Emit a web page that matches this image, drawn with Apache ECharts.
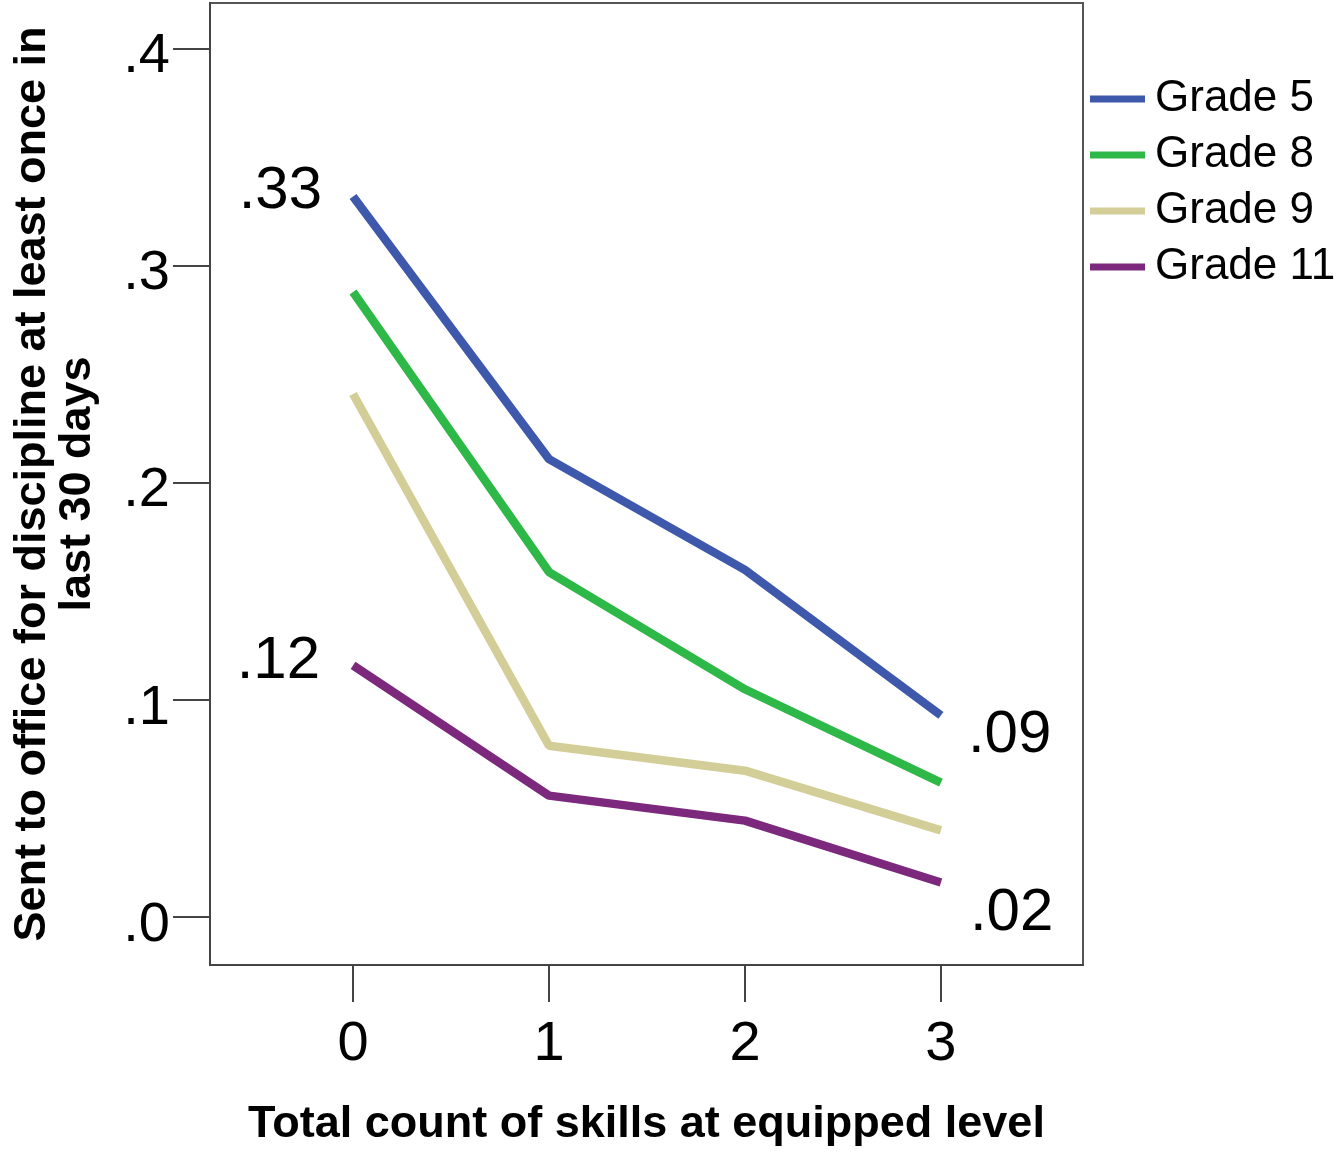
<!DOCTYPE html>
<html>
<head>
<meta charset="utf-8">
<script src="https://cdn.jsdelivr.net/npm/echarts@6/dist/echarts.min.js"></script>
<style>
html,body{margin:0;padding:0;background:#fff;}
#chart{width:1342px;height:1152px;}
</style>
</head>
<body>
<div id="chart"></div>
<script>
// ---- data ----
const skillCounts = [0, 1, 2, 3];
const seriesNames = ['Grade 5', 'Grade 8', 'Grade 9', 'Grade 11'];
const grade5 = [0.332, 0.211, 0.160, 0.093];
const grade8 = [0.288, 0.159, 0.105, 0.062];
const grade9 = [0.241, 0.079, 0.0675, 0.040];
const grade11 = [0.116, 0.056, 0.0445, 0.016];
const yTicks = [0, 0.1, 0.2, 0.3, 0.4];
const xTicks = [0, 1, 2, 3];
const colors = ['#3E58AC', '#2EB848', '#D3CE97', '#7C287D'];

const FONT = '"Liberation Sans", Arial, sans-serif';
const fmt2 = v => v.toFixed(2).replace(/^0/, '');

function pts(arr, labels) {
  return arr.map((v, i) => {
    const d = { value: [skillCounts[i], v] };
    if (labels && labels[i]) d.label = Object.assign({ show: true }, labels[i]);
    return d;
  });
}
const labelBase = { fontFamily: FONT, fontSize: 60, color: '#000', formatter: p => fmt2(p.value[1]) };

const allData = [grade5, grade8, grade9, grade11];
const labelSpecs = [
  { 0: Object.assign({ position: 'left', distance: 31, offset: [0, -5] }, labelBase),
    3: Object.assign({ position: 'right', distance: 27, offset: [0, 20] }, labelBase) },
  null,
  null,
  { 0: Object.assign({ position: 'left', distance: 33, offset: [0, -4] }, labelBase),
    3: Object.assign({ position: 'right', distance: 29, offset: [0, 31] }, labelBase) }
];

const chart = echarts.init(document.getElementById('chart'), null, { renderer: 'canvas' });
chart.setOption({
  animation: false,
  backgroundColor: '#fff',
  grid: { left: 210, top: 3, width: 873, height: 965, show: true, borderColor: '#555', borderWidth: 2, backgroundColor: 'transparent' },
  legend: {
    orient: 'vertical', left: 1090, top: 77, padding: 0, icon: 'rect', itemWidth: 55, itemHeight: 7, itemGap: 12,
    textStyle: { fontFamily: FONT, fontSize: 44, color: '#000', lineHeight: 44, padding: [0, 0, 0, 5] },
    data: seriesNames
  },
  xAxis: {
    type: 'value', min: -0.73, max: 3.725,
    name: 'Total count of skills at equipped level', nameLocation: 'middle', nameGap: 137,
    nameTextStyle: { fontFamily: FONT, fontSize: 45, fontWeight: 'bold', color: '#000' },
    axisLine: { show: true, onZero: false, lineStyle: { color: '#444', width: 2 } },
    axisTick: { show: true, inside: false, length: 37, lineStyle: { color: '#444', width: 2 }, customValues: xTicks },
    axisLabel: { fontFamily: FONT, fontSize: 56, color: '#000', margin: 52, customValues: xTicks, formatter: v => String(v) },
    splitLine: { show: false }
  },
  yAxis: {
    type: 'value', min: -0.022, max: 0.4211,
    name: 'Sent to office for discipline at least once in\nlast 30 days', nameLocation: 'middle', nameGap: 110,
    nameTextStyle: { fontFamily: FONT, fontSize: 45, fontWeight: 'bold', color: '#000', lineHeight: 45 },
    axisLine: { show: true, onZero: false, lineStyle: { color: '#444', width: 2 } },
    axisTick: { show: true, inside: false, length: 37, lineStyle: { color: '#444', width: 2 }, customValues: yTicks },
    axisLabel: {
      fontFamily: FONT, fontSize: 56, color: '#000', margin: 40, customValues: yTicks,
      formatter: v => '{a|' + v.toFixed(1).replace(/^-?0/, '') + '}',
      rich: { a: { fontFamily: FONT, fontSize: 56, color: '#000', padding: [16, 0, 0, 0] } }
    },
    splitLine: { show: false }
  },
  series: seriesNames.map((n, si) => ({
    name: n, type: 'line', color: colors[si],
    data: pts(allData[si], labelSpecs[si]),
    showSymbol: true, symbol: 'circle', symbolSize: 0,
    lineStyle: { width: 8.5, color: colors[si] },
    itemStyle: { color: colors[si] },
    label: { show: false },
    emphasis: { disabled: true }
  }))
});
</script>
</body>
</html>
